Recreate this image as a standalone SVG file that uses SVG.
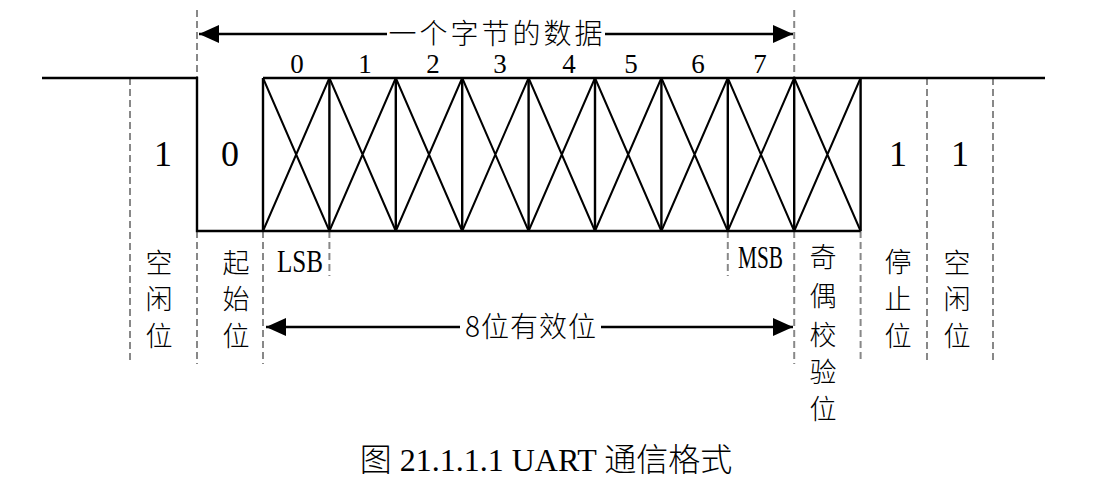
<svg xmlns="http://www.w3.org/2000/svg" width="1116" height="486" viewBox="0 0 1116 486">
<style>
.w{fill:none;stroke:#000;stroke-width:2.4;stroke-linejoin:miter}
.x{fill:none;stroke:#000;stroke-width:2}
.d{fill:none;stroke:#888;stroke-width:2;stroke-dasharray:7 4}
.a{fill:none;stroke:#000;stroke-width:2.4}
.dig{font-family:"Liberation Serif",serif;font-size:27px;text-anchor:middle;fill:#000}
.big{font-family:"Liberation Serif",serif;font-size:36px;text-anchor:middle;fill:#000}
.cjk{font-family:"Noto Sans CJK SC",sans-serif;font-size:27px;text-anchor:middle;dominant-baseline:central;fill:#000;font-weight:300}
.sb{font-family:"Liberation Serif",serif;font-size:32px;fill:#000}
.ttl{font-family:"Noto Sans CJK SC",sans-serif;font-size:28px;text-anchor:middle;fill:#000;font-weight:300}
.cap{font-family:"Liberation Serif","Noto Sans CJK SC",serif;font-size:32px;text-anchor:middle;fill:#000}
.capc{font-family:"Noto Sans CJK SC",sans-serif;font-weight:300}
</style>
<defs>
<marker id="ah" viewBox="0 0 20 18" refX="20" refY="9" markerWidth="20" markerHeight="18" markerUnits="userSpaceOnUse" orient="auto-start-reverse">
<path d="M0,0 L20,9 L0,18 Z" fill="#000"/>
</marker>
</defs>

<g id="guides">
<path class="d" d="M130,78 V364"/>
<path class="d" d="M197,10 V78 M197,231 V364"/>
<path class="d" d="M263,231 V364"/>
<path class="d" d="M329.4,231 V276"/>
<path class="d" d="M727.8,231 V276"/>
<path class="d" d="M794.2,10 V78 M794.2,231 V364"/>
<path class="d" d="M860.6,231 V360"/>
<path class="d" d="M927,78 V364"/>
<path class="d" d="M993,78 V364"/>
</g>

<g id="waveform">
<path class="w" d="M42,78 H197 V231 H263"/>
<path class="w" d="M263,78 H1045 M263,231 H860.6 M263,78 V231 M329.4,78 V231 M395.8,78 V231 M462.2,78 V231 M528.6,78 V231 M595,78 V231 M661.4,78 V231 M727.8,78 V231 M794.2,78 V231 M860.6,78 V231"/>
<path class="x" d="M263,78 L329.4,231 M263,231 L329.4,78 M329.4,78 L395.8,231 M329.4,231 L395.8,78 M395.8,78 L462.2,231 M395.8,231 L462.2,78 M462.2,78 L528.6,231 M462.2,231 L528.6,78 M528.6,78 L595,231 M528.6,231 L595,78 M595,78 L661.4,231 M595,231 L661.4,78 M661.4,78 L727.8,231 M661.4,231 L727.8,78 M727.8,78 L794.2,231 M727.8,231 L794.2,78 M794.2,78 L860.6,231 M794.2,231 L860.6,78"/>
</g>

<g id="connectors">
<path class="a" d="M387,34 H199" marker-end="url(#ah)"/>
<path class="a" d="M605,34 H793" marker-end="url(#ah)"/>
<path class="a" d="M460,327 H266" marker-end="url(#ah)"/>
<path class="a" d="M601,327 H793" marker-end="url(#ah)"/>
</g>

<g id="byte-label"><text class="ttl" x="497" y="44" letter-spacing="3">一个字节的数据</text></g>
<g id="bit-numbers">
<text class="dig" x="297" y="73">0</text>
<text class="dig" x="365" y="73">1</text>
<text class="dig" x="433" y="73">2</text>
<text class="dig" x="500" y="73">3</text>
<text class="dig" x="569" y="73">4</text>
<text class="dig" x="631" y="73">5</text>
<text class="dig" x="698" y="73">6</text>
<text class="dig" x="760" y="73">7</text>
</g>
<g id="levels">
<text class="big" x="163" y="166">1</text>
<text class="big" x="230" y="166">0</text>
<text class="big" x="898" y="166">1</text>
<text class="big" x="960" y="166">1</text>
</g>
<g id="idle-left"><text class="cjk" x="159" y="261">空</text><text class="cjk" x="159" y="297">闲</text><text class="cjk" x="159" y="334">位</text></g>
<g id="start-bit"><text class="cjk" x="236" y="261">起</text><text class="cjk" x="236" y="297">始</text><text class="cjk" x="236" y="334">位</text></g>
<g id="lsb"><text class="sb" x="277" y="272" textLength="46" lengthAdjust="spacingAndGlyphs">LSB</text></g>
<g id="msb"><text class="sb" x="738" y="268" textLength="45" lengthAdjust="spacingAndGlyphs">MSB</text></g>
<g id="parity-bit"><text class="cjk" x="823" y="255">奇</text><text class="cjk" x="823" y="294">偶</text><text class="cjk" x="823" y="333">校</text><text class="cjk" x="823" y="370">验</text><text class="cjk" x="823" y="407">位</text></g>
<g id="stop-bit"><text class="cjk" x="898" y="260">停</text><text class="cjk" x="898" y="297">止</text><text class="cjk" x="898" y="334">位</text></g>
<g id="idle-right"><text class="cjk" x="957" y="261">空</text><text class="cjk" x="957" y="297">闲</text><text class="cjk" x="957" y="334">位</text></g>
<g id="data-label"><text class="ttl" x="531" y="337" letter-spacing="1">8位有效位</text></g>
<g id="caption"><text class="cap" x="546" y="471"><tspan class="capc">图</tspan> 21.1.1.1 UART <tspan class="capc">通信格式</tspan></text></g>
</svg>
